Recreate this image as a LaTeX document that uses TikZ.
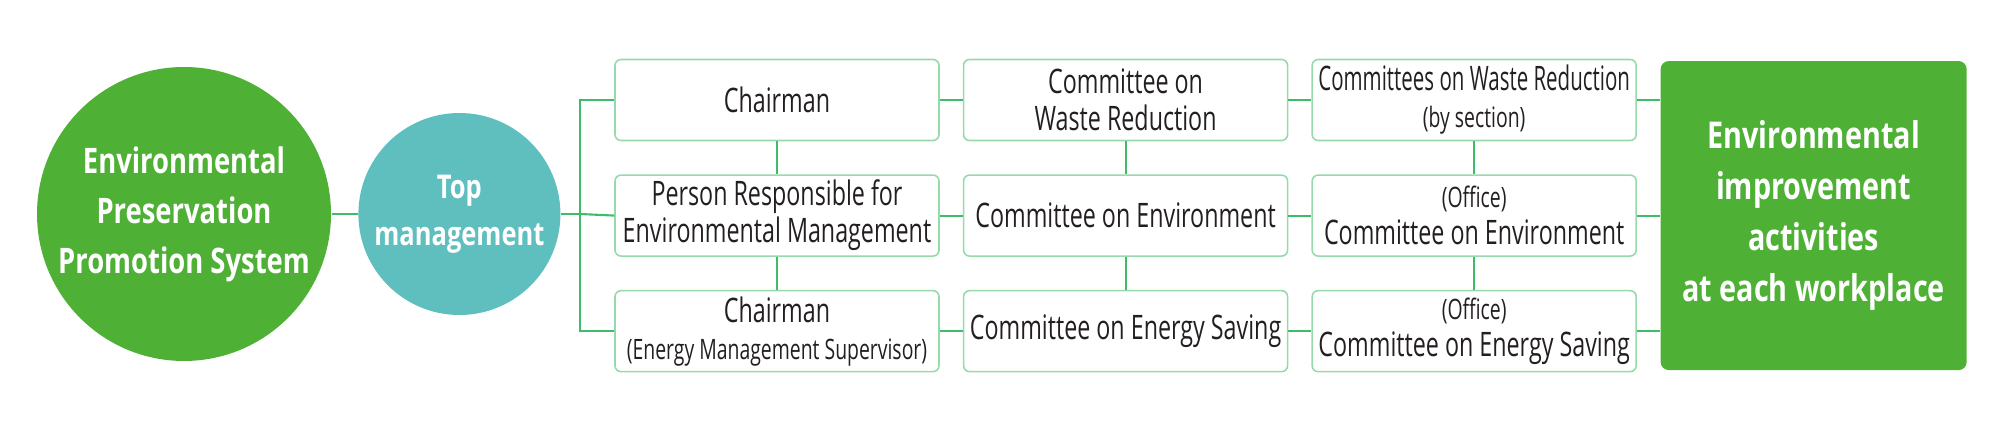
\documentclass[tikz,border=0pt]{standalone}
\usepackage{fontspec}
\usepackage{graphicx}
\setmainfont{Open Sans}[FakeStretch=0.69]
\newfontfamily\headfont{Open Sans}[FakeStretch=0.78]
\usetikzlibrary{positioning}
\definecolor{systemgreen}{HTML}{4FB036}
\definecolor{topteal}{HTML}{5FBFBF}
\definecolor{linkgreen}{HTML}{3DBD6A}
\definecolor{boxline}{HTML}{96D9AA}
\definecolor{inkgray}{HTML}{231F20}

\tikzset{
  unitbox/.style={draw=boxline,line width=0.45pt,rounded corners=0.06cm,
    minimum width=3.24cm,minimum height=0.81cm,inner sep=0pt,align=center,
    text=inkgray,font=\fontsize{9.6}{10.5}\selectfont},
  link/.style={linkgreen,line width=0.6pt}
}
\newcommand{\smallnote}[1]{{\fontsize{8}{9}\selectfont #1}}

\begin{document}
\begin{tikzpicture}
  \useasboundingbox (0,0) rectangle (20,4.3);
  % left: system and top management
  \node[circle,fill=systemgreen,minimum size=2.94cm,inner sep=0pt,align=center,
    text=white,font=\headfont\fontsize{10}{14.2}\selectfont\bfseries] (system) at (1.84,2.16)
    {Environmental\\Preservation\\Promotion System};
  \node[circle,fill=topteal,minimum size=2.02cm,inner sep=0pt,align=center,
    text=white,font=\headfont\fontsize{9.3}{13.4}\selectfont\bfseries,right=0.26cm of system] (top)
    {Top\\management};

  % first column
  \node[unitbox] (chair) at (7.77,3.30) {Chairman};
  \node[unitbox,below=0.33cm of chair] (envmgr) {Person Responsible for\\Environmental Management};
  \node[unitbox,below=0.33cm of envmgr] (energychair) {Chairman\\\smallnote{(Energy Management Supervisor)}};

  % second column
  \node[unitbox,right=0.23cm of chair] (wastecom) {Committee on\\Waste Reduction};
  \node[unitbox,right=0.23cm of envmgr] (envcom) {Committee on Environment};
  \node[unitbox,right=0.23cm of energychair] (energycom) {Committee on Energy Saving};

  % third column
  \node[unitbox,right=0.23cm of wastecom] (wastesec) {\scalebox{0.88}[1]{Committees on Waste Reduction}\\\smallnote{(by section)}};
  \node[unitbox,right=0.23cm of envcom] (envoffice) {\smallnote{(Office)}\\Committee on Environment};
  \node[unitbox,right=0.23cm of energycom] (energyoffice) {\smallnote{(Office)}\\Committee on Energy Saving};

  % workplace activities
  \node[fill=systemgreen,rounded corners=0.08cm,minimum width=3.06cm,minimum height=3.09cm,
    inner sep=0pt,align=center,text=white,font=\headfont\fontsize{10.5}{14.5}\selectfont\bfseries,
    right=0.23cm of envoffice] (workplace)
    {Environmental\\improvement\\activities\\at each workplace};

  % connectors
  \coordinate (bus) at (5.80,2.16);
  \draw[link] (system) -- (top);
  \draw[link] (top) -- (bus);
  \draw[link] (chair.west) -| (bus) |- (energychair.west);
  \draw[link] (bus) -- (envmgr.west);
  \foreach \a/\b in {chair/wastecom,envmgr/envcom,energychair/energycom,
      wastecom/wastesec,envcom/envoffice,energycom/energyoffice,
      chair/envmgr,envmgr/energychair,wastecom/envcom,envcom/energycom,
      wastesec/envoffice,envoffice/energyoffice}
    \draw[link] (\a) -- (\b);
  \draw[link] (wastesec.east) -- (wastesec.east -| workplace.west);
  \draw[link] (envoffice) -- (workplace);
  \draw[link] (energyoffice.east) -- (energyoffice.east -| workplace.west);
\end{tikzpicture}
\end{document}
